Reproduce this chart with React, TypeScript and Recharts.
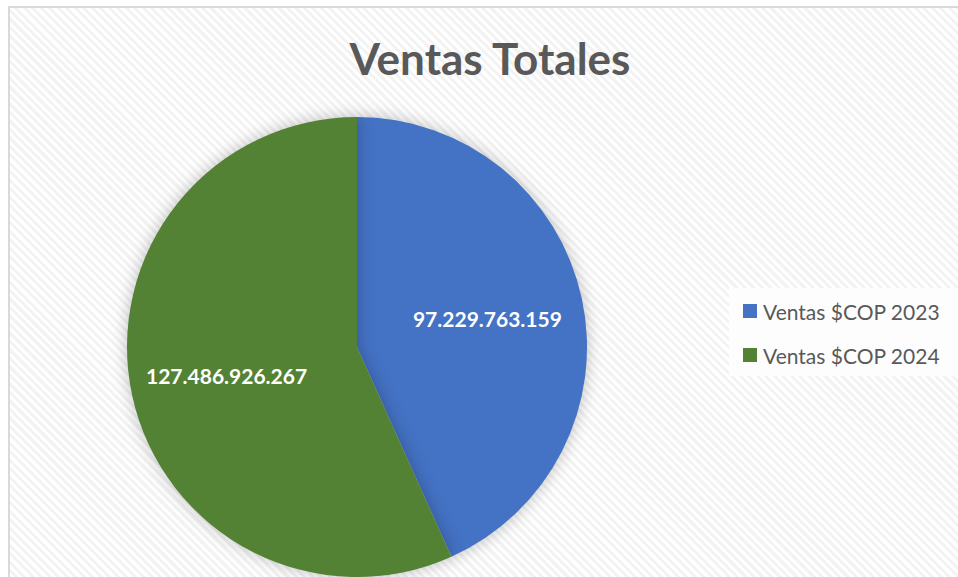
import React from "react";
import { PieChart, Pie, Cell, Legend } from "recharts";

const SERIES_NAMES = ["Ventas $COP 2023", "Ventas $COP 2024"];
const SERIES_VALUES = [97229763159, 127486926267];
const COLORS = ["#4472C4", "#548235"];

const data = SERIES_NAMES.map((name, i) => ({ name, value: SERIES_VALUES[i] }));

const fmt = (v: number) => String(v).replace(/\B(?=(\d{3})+(?!\d))/g, ".");

const RAD = Math.PI / 180;

function renderLabel(props: any) {
    const { cx, cy, midAngle, outerRadius, value } = props;
    const r = outerRadius * 0.58;
    const x = cx + r * Math.cos(-midAngle * RAD);
    const y = cy + r * Math.sin(-midAngle * RAD);
    return (
        <text x={x} y={y} fill="#fff" textAnchor="middle" dominantBaseline="central"
              style={{ fontFamily: "Lato, sans-serif", fontWeight: 700, fontSize: 21 }}>
            {fmt(value)}
        </text>
    );
}

function LegendBox({ payload }: any) {
    return (
        <div style={{ background: "#fdfdfd", height: 88, padding: "1px 0 0 14px", boxSizing: "border-box", fontFamily: "Lato, sans-serif" }}>
            {(payload ?? []).map((p: any, i: number) => (
                <div key={i} style={{ display: "flex", alignItems: "center", height: 44, fontSize: 21, color: "#595959" }}>
                    <span style={{ width: 14, height: 14, background: p.color, marginRight: 6, display: "inline-block" }} />
                    {p.value}
                </div>
            ))}
        </div>
    );
}

export default function App() {
    return (
        <div style={{
            position: "fixed",
            left: 8,
            top: 6,
            width: 950,
            height: 571,
            borderLeft: "2px solid #d9d9d9",
            borderTop: "2px solid #d9d9d9",
            boxSizing: "border-box",
            background: "repeating-linear-gradient(45deg, #ffffff 0px, #ffffff 3px, #f3f3f3 3px, #f3f3f3 6px)",
            overflow: "hidden",
        }}>
            <style>{`html, body { overflow: hidden; margin: 0; } .recharts-pie-sector { filter: drop-shadow(0 0 8px rgba(0,0,0,0.25)); }`}</style>
            <div style={{
                position: "absolute", left: 0, width: 950, top: 24, textAlign: "center",
                fontFamily: "Lato, sans-serif", fontWeight: 700, fontSize: 44, color: "#595959",
                paddingLeft: 10, boxSizing: "border-box",
            }}>
                Ventas Totales
            </div>
            <PieChart width={948} height={569}>
                <Pie data={data} dataKey="value" nameKey="name"
                     cx={342} cy={334} outerRadius={230}
                     startAngle={90} endAngle={-270}
                     stroke="none"
                     label={renderLabel} labelLine={false}
                     isAnimationActive={false}>
                    {data.map((d, i) => (
                        <Cell key={i} fill={COLORS[i]} />
                    ))}
                </Pie>
                <Legend layout="vertical" align="right" verticalAlign="top"
                        content={<LegendBox />}
                        wrapperStyle={{ left: 719, top: 280, width: 240 }} />
            </PieChart>
        </div>
    );
}
